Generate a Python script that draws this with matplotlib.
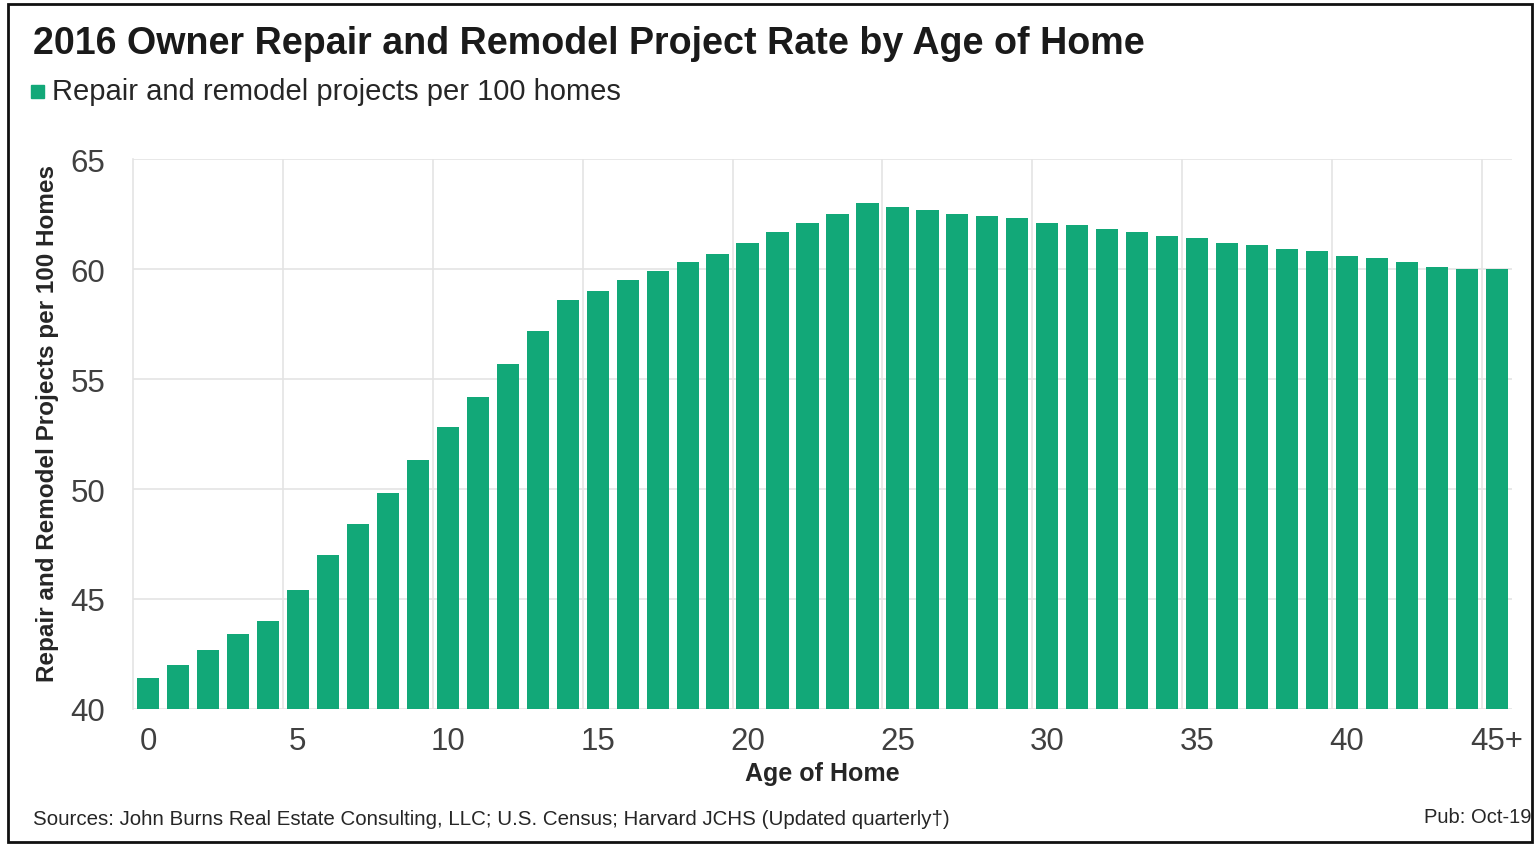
import matplotlib
matplotlib.use("Agg")
import matplotlib.pyplot as plt
from matplotlib.patches import Rectangle

plt.rcParams["font.family"] = ["Liberation Sans", "DejaVu Sans"]

# age of home (years) and projects per 100 homes
ages = list(range(46))
rates = [41.4, 42.0, 42.7, 43.4, 44.0, 45.4, 47.0, 48.4, 49.8, 51.3,
         52.8, 54.2, 55.7, 57.2, 58.6, 59.0, 59.5, 59.9, 60.3, 60.7,
         61.2, 61.7, 62.1, 62.5, 63.0, 62.8, 62.7, 62.5, 62.4, 62.3,
         62.1, 62.0, 61.8, 61.7, 61.5, 61.4, 61.2, 61.1, 60.9, 60.8,
         60.6, 60.5, 60.3, 60.1, 60.0, 60.0]
tick_pos = [0, 5, 10, 15, 20, 25, 30, 35, 40, 45]
tick_labels = ["0", "5", "10", "15", "20", "25", "30", "35", "40", "45+"]

green = "#12a878"

fig = plt.figure(figsize=(15.38, 8.45), dpi=100)
ax = fig.add_axes([133 / 1538, 1 - 710 / 845, (1512 - 133) / 1538, 550 / 845])

ax.bar(ages, rates, width=0.74, color=green, zorder=3)
ax.set_ylim(40, 65)
ax.set_xlim(-0.5, 45.5)
ax.set_yticks([40, 45, 50, 55, 60, 65])

# vertical grid sits between bars
for x in [4.5, 9.5, 14.5, 19.5, 24.5, 29.5, 34.5, 39.5, 44.5]:
    ax.axvline(x, color="#e4e4e4", lw=1.2, zorder=1)
ax.grid(axis="y", color="#e4e4e4", lw=1.2, zorder=1)

ax.set_xticks(tick_pos)
ax.set_xticklabels(tick_labels)
ax.tick_params(axis="both", length=0, labelsize=22.5, colors="#404040", pad=12)
ax.tick_params(axis="y", pad=20)
for s in ["top", "right", "bottom"]:
    ax.spines[s].set_visible(False)
ax.spines["left"].set_color("#e4e4e4")
ax.spines["left"].set_linewidth(1.2)

ax.set_xlabel("Age of Home", fontsize=18, fontweight="bold", color="#262626", labelpad=4)
ax.set_ylabel("Repair and Remodel Projects per 100 Homes", fontsize=17.5,
              fontweight="bold", color="#262626")
ax.yaxis.set_label_coords(-0.054, 0.52)

fig.text(33 / 1538, 1 - 44 / 845, "2016 Owner Repair and Remodel Project Rate by Age of Home",
         fontsize=27.1, fontweight="bold", color="#1a1a1a", va="center", ha="left")
fig.patches.append(Rectangle((31 / 1538, 1 - 99 / 845), 13 / 1538, 13 / 845,
                             transform=fig.transFigure, color=green))
fig.text(52 / 1538, 1 - 92 / 845, "Repair and remodel projects per 100 homes",
         fontsize=21, color="#262626", va="center", ha="left")

fig.text(33 / 1538, 1 - 820 / 845,
         "Sources: John Burns Real Estate Consulting, LLC; U.S. Census; Harvard JCHS (Updated quarterly\u2020)",
         fontsize=14.8, color="#262626", va="center", ha="left")
fig.text(1532 / 1538, 1 - 818 / 845, "Pub: Oct-19", fontsize=14.5, color="#262626",
         va="center", ha="right")

# outer frame
fig.patches.append(Rectangle((8 / 1538, 2 / 845), 1524 / 1538, 838 / 845,
                             transform=fig.transFigure, fill=False, ec="#111111", lw=2))

fig.savefig("out.png", dpi=100)
